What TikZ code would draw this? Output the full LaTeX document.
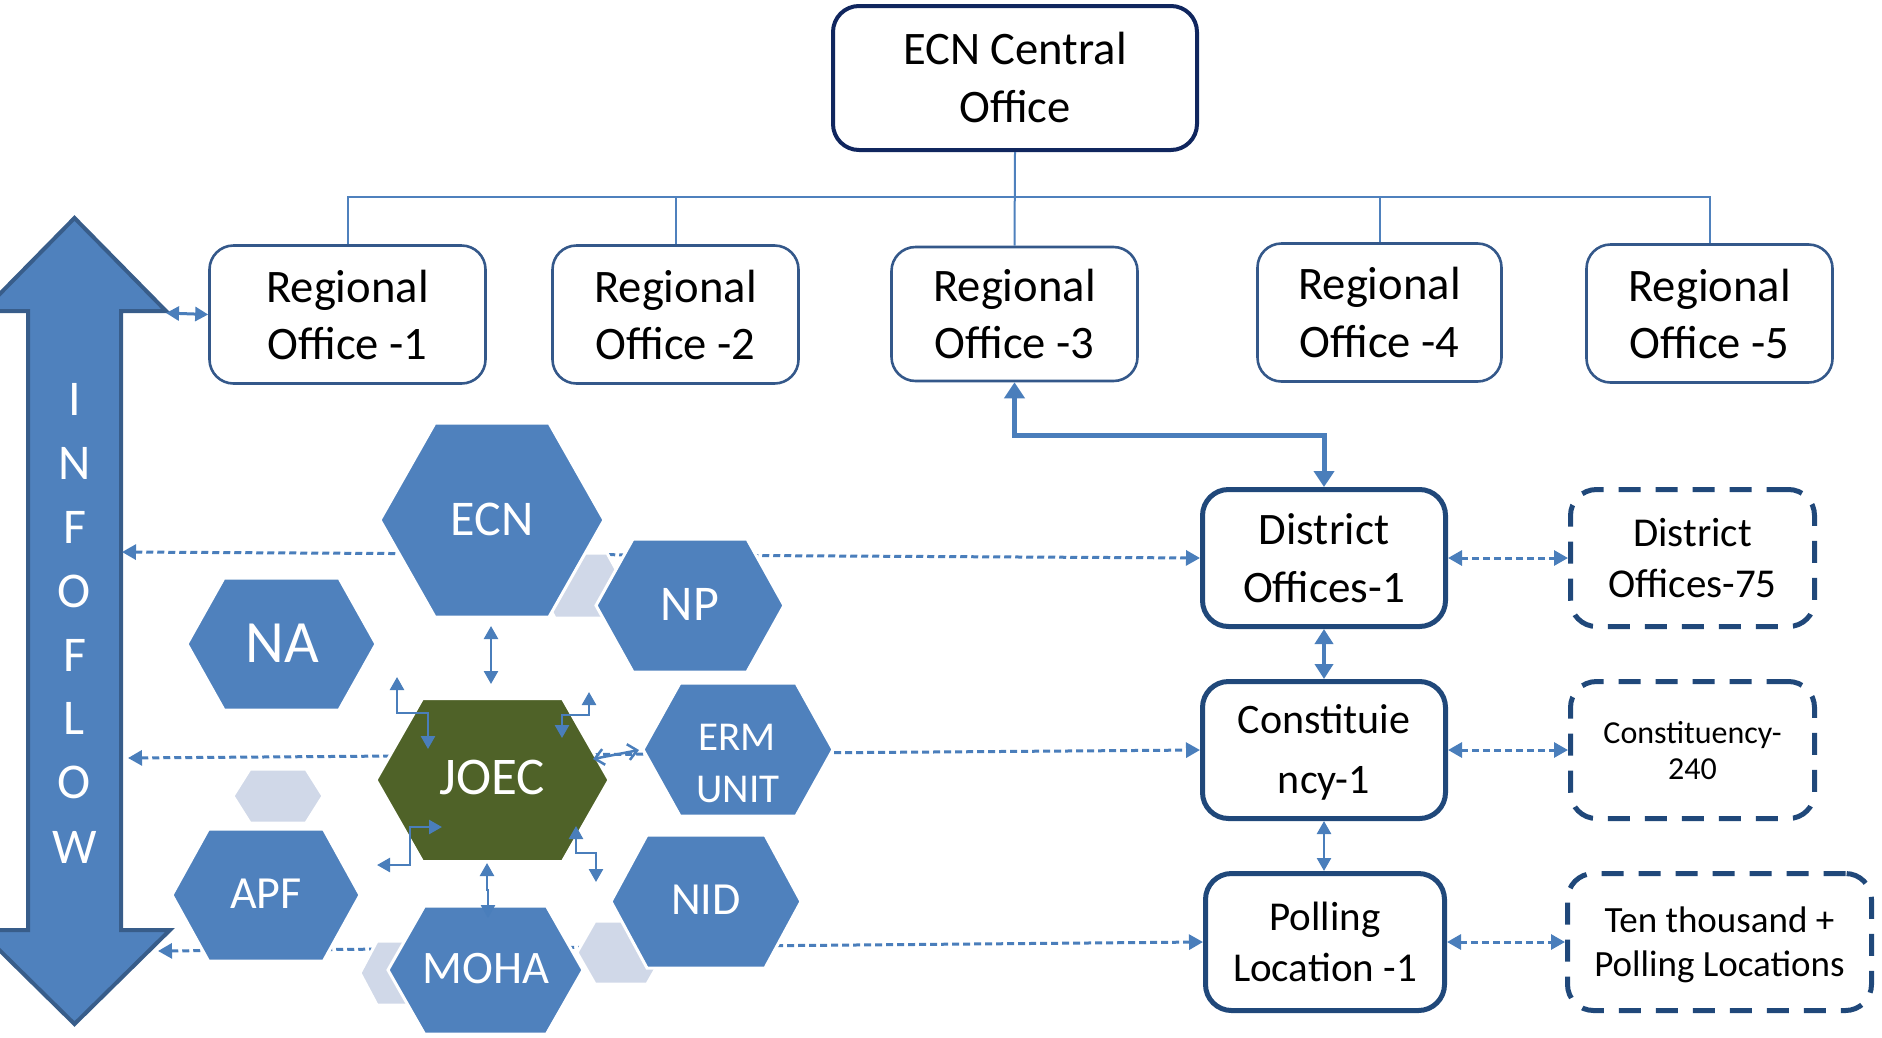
\documentclass[tikz,border=0pt]{standalone}
\usepackage{fontspec}
\setmainfont{Carlito}
\usetikzlibrary{arrows.meta}
\definecolor{hexblue}{RGB}{79,129,189}
\definecolor{joecgreen}{RGB}{79,98,40}
\definecolor{hexgray}{RGB}{208,216,232}
\definecolor{conblue}{RGB}{74,126,187}
\definecolor{infoedge}{RGB}{56,93,138}
\definecolor{roedge}{RGB}{52,88,138}
\definecolor{ecnedge}{RGB}{16,38,94}
\definecolor{distedge}{RGB}{32,72,122}
\newcommand\fsz[2]{\fontsize{#1}{#2}\selectfont}
\newcommand\HexAt[6]{\path[#1] ({#2-#4},{#3-#6}) -- ({#2+#4},{#3-#6}) -- ({#2+#5},{#3}) -- ({#2+#4},{#3+#6}) -- ({#2-#4},{#3+#6}) -- ({#2-#5},{#3}) -- cycle;}
\begin{document}
\begin{tikzpicture}[x=1pt,y=-1pt,
  >={Triangle[width=14pt,length=13pt]},
  tree/.style={draw=hexblue, line width=2pt},
  rbox/.style={draw=roedge, line width=2.6pt, rounded corners=24pt, fill=white, inner sep=0pt},
  cbox/.style={draw=ecnedge, line width=4pt, rounded corners=26pt, fill=white, inner sep=0pt},
  dbox/.style={draw=distedge, line width=5pt, rounded corners=26pt, fill=white, inner sep=0pt},
  dashbox/.style={draw=distedge, line width=5pt, rounded corners=26pt, dash pattern=on 22pt off 15pt, fill=white, inner sep=0pt},
  lbl/.style={anchor=base, inner sep=0pt, outer sep=0pt},
  wlbl/.style={lbl, text=white},
  conn/.style={draw=conblue, line width=3pt},
  small/.style={draw=conblue, line width=2.5pt, <->},
  dotconn/.style={draw=conblue, line width=3pt, dash pattern=on 7pt off 4pt, {Triangle[width=15pt,length=14pt]}-{Triangle[width=15pt,length=14pt]}},
  hexb/.style={fill=hexblue, draw=white, line width=3pt},
  hexg/.style={fill=hexgray, draw=white, line width=3pt},
  hexj/.style={fill=joecgreen, draw=white, line width=3pt},
]
\useasboundingbox (0,0) rectangle (1882,1037);
\clip (0,0) rectangle (1882,1037);

% ---------- INFOFLOW double arrow ----------
\draw[fill=hexblue, draw=infoedge, line width=4pt, line join=miter]
  (74.5,218) -- (166,311) -- (121,311) -- (121,930) -- (170,930) -- (74.5,1024)
  -- (-21,930) -- (28,930) -- (28,311) -- (-17,311) -- cycle;
\foreach \ch/\yy [count=\k] in {I/415,N/479,F/543,O/607,F/671,L/734,O/798,W/863}
  \node[wlbl, font=\fsz{50}{50}] (inf\k) at (74.5,\yy) {\ch};

% ---------- boxes ----------
\node[cbox, minimum width=364pt, minimum height=144pt] (ecnc) at (1015,78) {};
\node[rbox, minimum width=276pt, minimum height=138pt] (ro1) at (347.5,314.5) {};
\node[rbox, minimum width=246pt, minimum height=138pt] (ro2) at (675.5,314.5) {};
\node[rbox, minimum width=246pt, minimum height=134pt] (ro3) at (1014.5,314) {};
\node[rbox, minimum width=244pt, minimum height=138pt] (ro4) at (1379.5,312.5) {};
\node[rbox, minimum width=246pt, minimum height=138pt] (ro5) at (1709.5,313.5) {};
\node[dbox, minimum width=243pt, minimum height=137pt] (dist1) at (1324,558) {};
\node[dbox, minimum width=243pt, minimum height=137pt] (cons1) at (1324,750) {};
\node[dbox, minimum width=239pt, minimum height=137pt] (poll1) at (1325,942) {};
\node[dashbox, minimum width=244pt, minimum height=137pt] (dist75) at (1692.5,558) {};
\node[dashbox, minimum width=244pt, minimum height=137pt] (cons240) at (1692.5,750) {};
\node[dashbox, minimum width=304pt, minimum height=137pt] (pollall) at (1719.5,942) {};

% ---------- box texts ----------
\node[lbl, font=\fsz{46.6}{56}] (ecnct1) at (1015,64) {ECN Central};
\node[lbl, font=\fsz{46.6}{56}] (ecnct2) at (1015,122) {Office};
\foreach \cx/\ya/\yb [count=\k] in {347.5/302/359, 675.5/302/359, 1014.5/301/358, 1379.5/299/357, 1709.5/301/358}{
  \node[lbl, font=\fsz{46.6}{56}] (rot\k a) at (\cx,\ya) {Regional};
  \node[lbl, font=\fsz{46.6}{56}] (rot\k b) at (\cx,\yb) {Office -\k};
}
\node[lbl, font=\fsz{45}{54}] (dt1a) at (1324,544) {District};
\node[lbl, font=\fsz{45}{54}] (dt1b) at (1324,602) {Offices-1};
\node[lbl, font=\fsz{41}{50}] (dt75a) at (1692.5,546) {District};
\node[lbl, font=\fsz{41}{50}] (dt75b) at (1692.5,597) {Offices-75};
\node[lbl, font=\fsz{42}{50}] (ct1a) at (1324,733) {Constituie};
\node[lbl, font=\fsz{42}{50}] (ct1b) at (1324,793) {ncy-1};
\node[lbl, font=\fsz{32}{38}] (ct240a) at (1692.5,743) {Constituency-};
\node[lbl, font=\fsz{32}{38}] (ct240b) at (1692.5,779) {240};
\node[lbl, font=\fsz{41}{50}] (pt1a) at (1325,930) {Polling};
\node[lbl, font=\fsz{41}{50}] (pt1b) at (1325,981) {Location -1};
\node[lbl, font=\fsz{37}{44}] (ptaa) at (1719.5,932) {Ten thousand +};
\node[lbl, font=\fsz{37}{44}] (ptab) at (1719.5,976) {Polling Locations};

% ---------- tree connectors ----------
\coordinate (bus) at (1015,197);
\draw[tree] (ecnc.south) -- (ro3.north);
\draw[tree] (ro1.north) |- (ro5.north |- bus) -- (ro5.north);
\draw[tree] (ro2.north) -- (ro2.north |- bus);
\draw[tree] (ro4.north) -- (ro4.north |- bus);

% ---------- right side connectors ----------
\draw[draw=conblue, line width=5pt, {Triangle[width=20pt,length=16pt]}-{Triangle[width=20pt,length=16pt]}]
  (ro3.south) -- ++(0,53) -| (dist1.north);
\draw[draw=conblue, line width=4.5pt, {Triangle[width=18pt,length=15pt]}-{Triangle[width=18pt,length=15pt]}]
  (dist1.south) -- (cons1.north);
\draw[conn, line width=2.5pt, <->] (cons1.south) -- (cons1.south |- poll1.north);
\draw[dotconn] (dist1.east) -- (dist75.west);
\draw[dotconn] (cons1.east) -- (cons240.west);
\draw[dotconn] (poll1.east) -- (pollall.west);

% INFOFLOW <-> Regional Office 1
\coordinate (infhead) at (166,313);
\draw[conn, <->] (infhead) -- (ro1.west);

% ---------- long dashed connectors (behind hexagons) ----------
\coordinate (infA) at (122,552);
\coordinate (infB) at (128,758);
\coordinate (infC) at (158,951);
\draw[dotconn] (infA) -- (dist1.west);
\draw[dotconn] (infB) -- (cons1.west);
\draw[dotconn] (infC) -- (poll1.west);

% ---------- grey hexagons ----------
\HexAt{hexg}{581}{585.5}{26}{44}{32.5}
\HexAt{hexg}{278}{796}{28}{45}{27}
\HexAt{hexg}{403}{973}{26}{43}{32}
\HexAt{hexg}{621}{952.5}{26}{44}{31.5}

% ---------- blue hexagons ----------
\HexAt{hexb}{492}{520}{57}{112}{97}
\HexAt{hexb}{690}{605.5}{57}{94}{66.5}
\HexAt{hexb}{281.5}{644}{57.5}{94.5}{66}
\HexAt{hexb}{738}{749.5}{58}{95}{66.5}
\HexAt{hexb}{266}{895}{57.5}{94}{66}
\HexAt{hexb}{706}{901.5}{59}{95}{66.5}
\HexAt{hexb}{485.5}{970}{61}{97.5}{64}
\HexAt{hexj}{492.5}{780}{70}{116.5}{81.5}

\node[wlbl, font=\fsz{50}{50}] (ecn) at (492,535) {ECN};
\node[wlbl, font=\fsz{60}{60}] (na) at (282,662) {NA};
\node[wlbl, font=\fsz{50}{50}] (np) at (690,620) {NP};
\node[wlbl, font=\fsz{53}{53}] (joec) at (492,794) {JOEC};
\node[wlbl, font=\fsz{41}{52}] (erma) at (737,750) {ERM};
\node[wlbl, font=\fsz{41}{52}] (ermb) at (738,802) {UNIT};
\node[wlbl, font=\fsz{46}{46}] (apf) at (266,908) {APF};
\node[wlbl, font=\fsz{46}{46}] (nid) at (706,914) {NID};
\node[wlbl, font=\fsz{46.6}{46.6}] (moha) at (486,983) {MOHA};

% ---------- small arrows around JOEC ----------
\coordinate (a1s) at (491,626);  \coordinate (a1e) at (491,684);
\coordinate (a2s) at (397,677);  \coordinate (a2e) at (428,749);
\coordinate (a3s) at (589,692);  \coordinate (a3e) at (562,738);
\coordinate (a4s) at (593,759);  \coordinate (a4e) at (639,750);
\coordinate (a5s) at (442,827);  \coordinate (a5e) at (377,865);
\coordinate (a6s) at (576,826);  \coordinate (a6e) at (596,882);
\coordinate (a7s) at (487,863);  \coordinate (a7e) at (488,918);
\draw[small] (a1s) -- (a1e);
\draw[small] (a2s) -- (397,713) -| (a2e);
\draw[small] (a3s) -- (589,715) -| (a3e);
\draw[conn, line width=2.5pt, {Straight Barb[width=16pt,length=9pt]}-{Straight Barb[width=16pt,length=9pt]}] (a4s) -- (a4e);
\draw[small] (a5s) -- (410,827) |- (a5e);
\draw[small] (a6s) -- (576,853) -| (a6e);
\draw[small] (a7s) -- (487,890) -- (488,890) -- (a7e);
\end{tikzpicture}
\end{document}
